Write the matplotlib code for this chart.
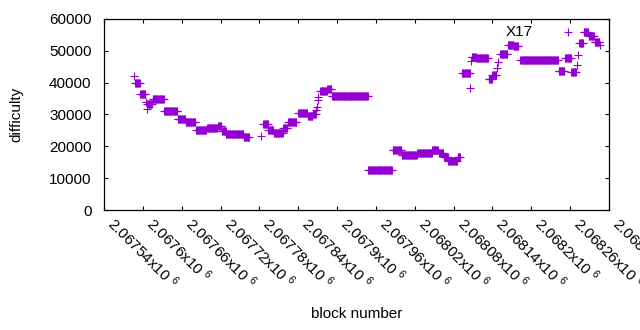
import numpy as np
import matplotlib
matplotlib.use("Agg")
import matplotlib.pyplot as plt

# Difficulty runs: each run is a stretch of blocks sharing one difficulty value
# (block offsets are relative to the first x tick, 2067540)
base_block = 2067540
run_start = [47, 48, 56, 67, 75, 93, 114, 126, 142, 159, 176, 182, 189, 216,
             246, 254, 262, 277, 284, 300, 315, 323, 334, 345, 352,
             408, 446, 460, 484, 507, 517, 525, 532, 546,
             553, 568, 575, 594, 600, 612, 624, 633, 643, 702, 712, 722,
             734, 741, 749, 758]
run_end = [47, 55, 64, 74, 92, 113, 125, 141, 158, 175, 181, 188, 215, 224,
           253, 261, 276, 283, 297, 314, 322, 327, 344, 351, 407,
           445, 459, 483, 506, 516, 524, 531, 545, 550,
           565, 574, 593, 599, 606, 623, 632, 640, 701, 711, 721, 729,
           740, 748, 757, 765]
run_diff = [42000, 39900, 36300, 33300, 34800, 31000, 28500, 27800, 25100, 25700,
            26400, 24700, 23900, 22900,
            27000, 25100, 24100, 25700, 27600, 30400, 29500, 30200, 37500, 38000, 35900,
            12560, 18700, 17300, 17800, 18800, 17800, 16700, 15500, 16700,
            42900, 48100, 47600, 41100, 42400, 48900, 51800, 51500, 47200, 43700,
            47600, 43300, 52400, 56000, 54700, 52900]

# Lone blocks that stand out of the runs
single_block = [65, 66, 242, 328, 329, 330, 331, 566, 567, 607, 608,
                716, 730, 732, 766]
single_diff = [34000, 31700, 23300, 31400, 32400, 34500, 35600, 38400, 46900,
               44500, 46600, 55800, 45500, 48700, 51800]

tick_blocks = list(range(2067540, 2068321, 60))
y_ticks = [0, 10000, 20000, 30000, 40000, 50000, 60000]


def plot_difficulty():
    # Expand every run into its consecutive blocks
    blocks = []
    diffs = []
    for s, e, d in zip(run_start, run_end, run_diff):
        for b in range(s, e + 1):
            blocks.append(base_block + b)
            diffs.append(d)
    for b, d in zip(single_block, single_diff):
        blocks.append(base_block + b)
        diffs.append(d)
    blocks = np.array(blocks)
    diffs = np.array(diffs)

    plt.rcParams['font.family'] = ['Liberation Sans', 'DejaVu Sans']
    plt.rcParams['mathtext.fontset'] = 'custom'
    plt.rcParams['mathtext.rm'] = 'Liberation Sans'
    plt.rcParams['mathtext.it'] = 'Liberation Sans'

    fig = plt.figure(figsize=(6.4, 3.3), dpi=100)
    ax = fig.add_axes([104 / 640, 1 - 210 / 330, (609 - 104) / 640, (210 - 19) / 330])

    ax.plot(blocks, diffs, linestyle='none', marker='+', color='#9400D3',
            markersize=5.4, markeredgewidth=0.8)

    ax.set_xlim(tick_blocks[0], tick_blocks[-1])
    ax.set_ylim(0, 60000)

    # gnuplot-like frame: inward ticks mirrored on all sides
    ax.tick_params(direction='in', length=3, width=0.8, top=True, right=True,
                   labelsize=11, colors='black')
    ax.tick_params(axis='y', pad=9)
    ax.tick_params(axis='x', pad=12)
    for spine in ax.spines.values():
        spine.set_linewidth(0.9)

    ax.set_yticks(y_ticks)
    ax.set_yticklabels([str(v) for v in y_ticks])
    ax.set_xticks(tick_blocks)
    labels = [f"{b / 1e6:g}x10 $^{{6}}$" for b in tick_blocks]
    ax.set_xticklabels(labels, rotation=-45, ha='left', va='bottom',
                       rotation_mode='anchor')

    ax.set_xlabel("block number", fontsize=11)
    ax.set_ylabel("difficulty", fontsize=11)
    ax.xaxis.set_label_coords(0.5, -0.51)
    ax.yaxis.set_label_coords(-0.16, 0.5)

    ax.text(2068181, 56000, "X17", fontsize=11, ha='center', va='center')

    fig.savefig("out.png", dpi=100)
    plt.close(fig)


if __name__ == "__main__":
    plot_difficulty()
